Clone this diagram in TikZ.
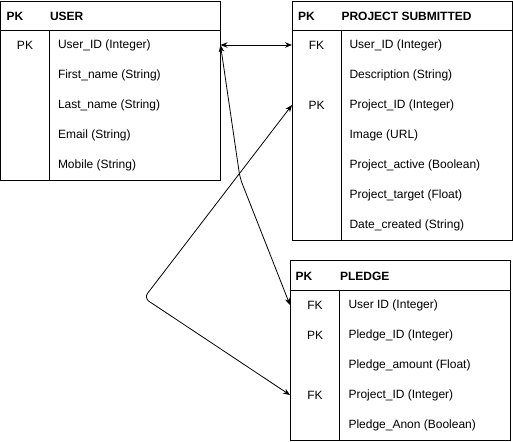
\documentclass[tikz,border=0pt]{standalone}
\usepackage{fontspec}
\setmainfont{Liberation Sans}
\usetikzlibrary{arrows.meta}
\begin{document}
\begin{tikzpicture}[x=1pt,y=-1pt,line width=1pt,
  fld/.style={anchor=west,inner sep=0pt,font=\fontsize{12}{14}\selectfont},
  keyc/.style={inner sep=0pt,font=\fontsize{12}{14}\selectfont},
  hdr/.style={anchor=west,inner sep=0pt,font=\fontsize{12}{14}\selectfont\bfseries},
  tline/.style={draw,line width=1pt},
  rel/.style={draw,line width=0.8pt,{Stealth[length=7pt,width=5.5pt]}-{Stealth[length=7pt,width=5.5pt]},rounded corners=6pt}]
\useasboundingbox (0,0) rectangle (513,441);
\fill[white] (0,0) rectangle (513,441);

% USER table
\draw[tline] (0.5,1.5) rectangle (220,180);
\draw[tline] (0.5,30.5) -- (220,30.5);
\draw[tline] (49.5,30.5) -- (49.5,180);
\node[hdr] (uhk) at (6,16) {PK};
\node[hdr] (uht) at (49.5,16) {USER};
\node[keyc] (uk1) at (25,45) {PK};
\node[fld] (u1) at (57.5,45) {User\_ID (Integer)};
\node[fld] (u2) at (57.5,75) {First\_name (String)};
\node[fld] (u3) at (57.5,105) {Last\_name (String)};
\node[fld] (u4) at (57.5,135) {Email (String)};
\node[fld] (u5) at (57.5,165) {Mobile (String)};

% PROJECT SUBMITTED table
\draw[tline] (292.5,1.5) rectangle (512,240);
\draw[tline] (292.5,30.5) -- (512,30.5);
\draw[tline] (341,30.5) -- (341,240);
\node[hdr] (phk) at (297.5,16) {PK};
\node[hdr] (pht) at (341,16) {PROJECT SUBMITTED};
\node[keyc] (pk1) at (316.5,45) {FK};
\node[keyc] (pk3) at (316.5,105) {PK};
\node[fld] (p1) at (349,45) {User\_ID (Integer)};
\node[fld] (p2) at (349,75) {Description (String)};
\node[fld] (p3) at (349,105) {Project\_ID (Integer)};
\node[fld] (p4) at (349,135) {Image (URL)};
\node[fld] (p5) at (349,165) {Project\_active (Boolean)};
\node[fld] (p6) at (349,195) {Project\_target (Float)};
\node[fld] (p7) at (349,225) {Date\_created (String)};

% PLEDGE table
\draw[tline] (290.5,260.5) rectangle (510.5,440);
\draw[tline] (290.5,290) -- (510.5,290);
\draw[tline] (339.5,290) -- (339.5,440);
\node[hdr] (lhk) at (295,276) {PK};
\node[hdr] (lht) at (339.5,276) {PLEDGE};
\node[keyc] (lk1) at (315,305.5) {FK};
\node[keyc] (lk2) at (315,335.5) {PK};
\node[keyc] (lk4) at (315,395.5) {FK};
\node[fld] (l1) at (348,305.5) {User ID (Integer)};
\node[fld] (l2) at (348,335.5) {Pledge\_ID (Integer)};
\node[fld] (l3) at (348,365.5) {Pledge\_amount (Float)};
\node[fld] (l4) at (348,395.5) {Project\_ID (Integer)};
\node[fld] (l5) at (348,425.5) {Pledge\_Anon (Boolean)};

% connector end points
\coordinate (cu1) at (220.5,45);
\coordinate (cp1) at (292,45);
\coordinate (cp3) at (292,105);
\coordinate (cl1) at (290,305);
\coordinate (cl4) at (290,395);
\coordinate (b1) at (240,178);
\coordinate (b2) at (144,298);

\draw[rel] (cu1) -- (cp1);
\draw[rel] (cu1) -- (b1) -- (cl1);
\draw[rel] (cp3) -- (b2) -- (cl4);
\end{tikzpicture}
\end{document}
